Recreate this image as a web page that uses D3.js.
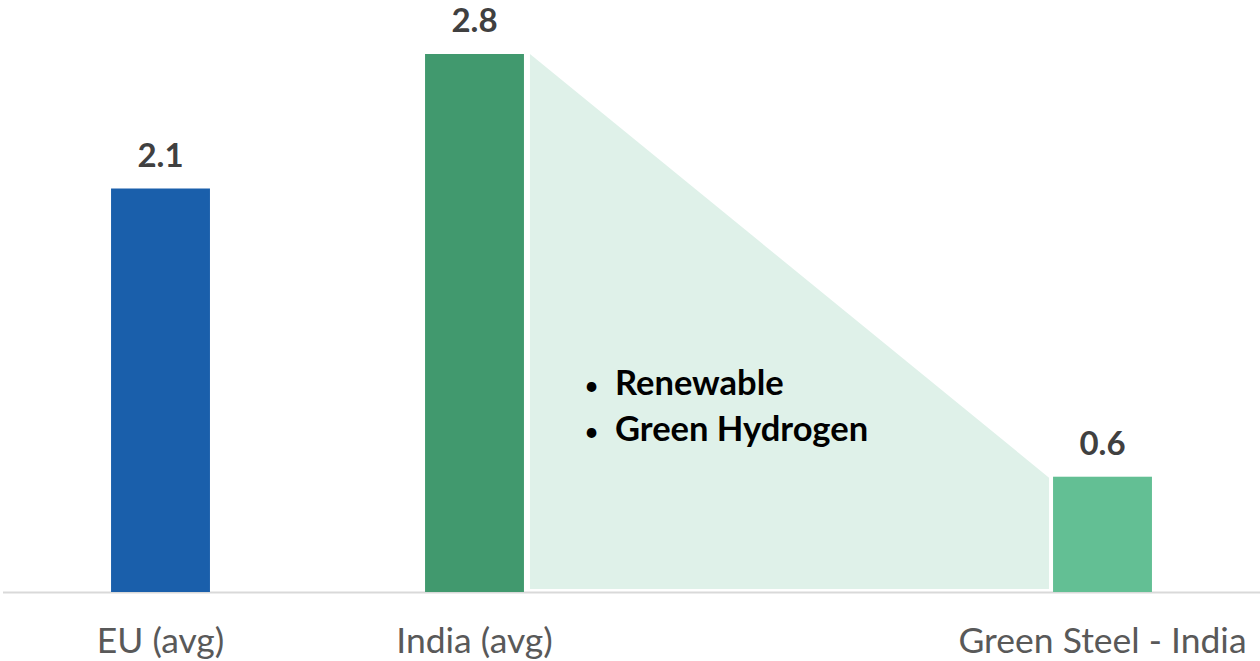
<!DOCTYPE html>
<html>
<head>
<meta charset="utf-8">
<script src="https://cdn.jsdelivr.net/npm/d3@7"></script>
<style>
  body { margin: 0; background: #fff; }
  text { font-family: Lato, "Open Sans", sans-serif; }
</style>
</head>
<body>
<div id="chart-area"></div>
<script>
var categories = ["EU (avg)", "India (avg)", "gap", "Green Steel - India"];
var values = [2.1, 2.8, null, 0.6];
var barColors = ["#1a5fab", "#41996e", null, "#63bf94"];
var valueLabels = ["2.1", "2.8", "", "0.6"];
var bullets = ["Renewable", "Green Hydrogen"];

var width = 1260;
var height = 661;
var baseY = 592;

var svg = d3.select("#chart-area").append("svg")
    .attr("width", width)
    .attr("height", height);

var x = d3.scaleBand()
    .domain(categories)
    .range([3.5, 1259.5])
    .paddingInner(0.685)
    .paddingOuter(0.3425);

var y = d3.scaleLinear()
    .domain([0, 2.8])
    .range([baseY, 54]);

var data = categories.map((c, i) => {
    return {name: c, value: values[i], color: barColors[i], label: valueLabels[i]};
}).filter(d => d.value != null);

// shaded wedge between India and Green Steel
var from = data[1], to = data[2];
var x0 = x(from.name) + x.bandwidth(), x1 = x(to.name);
svg.append("polygon")
    .attr("points", [
        [x0 + 6, y(from.value)],
        [x1 - 4, y(to.value) + 1],
        [x1 - 4, baseY - 3],
        [x0 + 6, baseY - 3]
    ].map(p => p.join(",")).join(" "))
    .attr("fill", "#dff1e9");

svg.append("line")
    .attr("x1", 3).attr("x2", width)
    .attr("y1", baseY + 0.5).attr("y2", baseY + 0.5)
    .attr("stroke", "#d9d9d9")
    .attr("stroke-width", 2);

svg.selectAll("rect.bar").data(data).enter()
    .append("rect")
        .attr("class", "bar")
        .attr("x", d => x(d.name))
        .attr("y", d => y(d.value))
        .attr("width", x.bandwidth())
        .attr("height", d => baseY - y(d.value))
        .attr("fill", d => d.color);

svg.selectAll("text.val").data(data).enter()
    .append("text")
        .attr("class", "val")
        .attr("x", d => x(d.name) + x.bandwidth() / 2)
        .attr("y", d => y(d.value) - 22)
        .attr("text-anchor", "middle")
        .attr("font-size", 33)
        .attr("font-weight", "bold")
        .attr("fill", "#404040")
        .text(d => d.label);

svg.selectAll("text.cat").data(data).enter()
    .append("text")
        .attr("class", "cat")
        .attr("x", d => x(d.name) + x.bandwidth() / 2)
        .attr("y", 653)
        .attr("text-anchor", "middle")
        .attr("font-size", 35.5)
        .attr("fill", "#595959")
        .text(d => d.name);

var bl = svg.selectAll("g.bullet").data(bullets).enter()
    .append("g")
        .attr("class", "bullet")
        .attr("transform", (d, i) => "translate(0," + (395 + i * 46) + ")");
bl.append("text")
    .attr("x", 584)
    .attr("font-size", 26)
    .attr("fill", "#000")
    .text("•");
bl.append("text")
    .attr("x", 615)
    .attr("font-size", 34.5)
    .attr("font-weight", "bold")
    .attr("fill", "#000")
    .text(d => d);
</script>
</body>
</html>
